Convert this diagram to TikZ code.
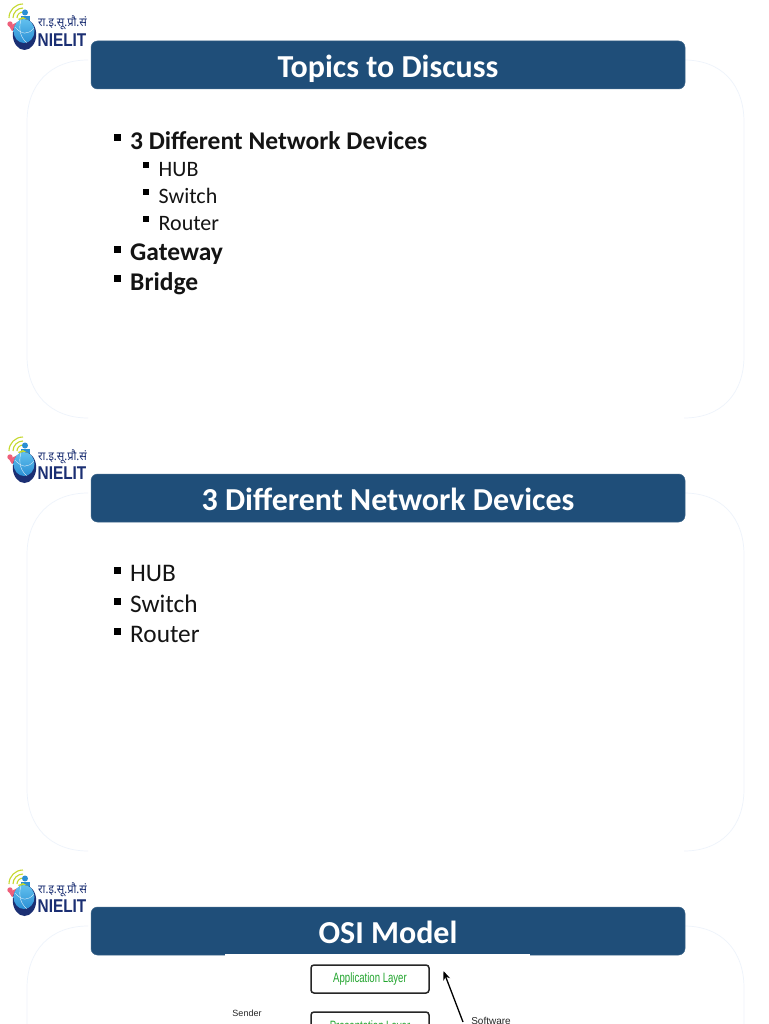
\documentclass[tikz,border=0pt]{standalone}
\usepackage{fontspec}
\setmainfont{Carlito}
\setsansfont{Liberation Sans}
\newfontfamily\hindifont[Script=Devanagari]{Noto Sans}
\usetikzlibrary{arrows.meta,shapes.geometric}
\definecolor{banner}{HTML}{1F4E79}
\definecolor{panelline}{HTML}{EEF3FB}
\definecolor{navy}{HTML}{1B2F73}
\definecolor{layergreen}{HTML}{22A52E}
\definecolor{lime}{HTML}{C5D82E}
\definecolor{logopink}{HTML}{EE5F7A}
\definecolor{logoblue}{HTML}{2A8FD4}
\definecolor{logolight}{HTML}{62C0EE}
\tikzset{
  titlebar/.style={draw=banner!85!white,line width=.5pt,fill=banner,rounded corners=6.5pt,minimum width=594pt,minimum height=48pt,inner sep=0pt,anchor=center},
  titletext/.style={text=white,font=\fontsize{32}{36}\selectfont\bfseries,inner sep=0pt,anchor=base},
  bigbold/.style={text=black!92,font=\fontsize{25.5}{28}\selectfont\bfseries,inner sep=0pt,anchor=base west},
  bigreg/.style={text=black!92,font=\fontsize{25.3}{28}\selectfont,inner sep=0pt,anchor=base west},
  smallreg/.style={text=black!92,font=\fontsize{22}{26}\selectfont,inner sep=0pt,anchor=base west},
  bulletbig/.style={fill=black,minimum size=7pt,inner sep=0pt,anchor=center},
  bulletsmall/.style={fill=black,minimum size=6pt,inner sep=0pt,anchor=center},
  panel/.style={draw=panelline,line width=.7pt},
  layerbox/.style={draw=black!85,line width=1.5pt,rounded corners=3pt,minimum width=118pt,minimum height=28pt,inner sep=0pt,fill=white},
  layertext/.style={text=layergreen,font=\sffamily\fontsize{13.5}{15}\selectfont,xscale=.71,inner sep=0pt},
  smalllabel/.style={text=black!85,font=\sffamily\fontsize{10}{12}\selectfont,inner sep=0pt},
  logo/.pic={
    \foreach \r in {14,10,6}{
      \draw[line width=1.1pt,color=lime] (23-\r,18) arc[start angle=180,end angle=270,radius=\r];
    }
    \fill[logopink] (10,24) circle (2.7);
    \fill[logopink] (9,26) -- (20,21) -- (21,27) -- (12,31) -- cycle;
    \fill[logoblue] (25,12.5) circle (3);
    \fill[logoblue] (21,16) rectangle (30,24);
    \fill[lime] (18,19) -- (23,17) -- (28,20) -- (22,23) -- cycle;
    \path[fill=navy] (24.5,34.5) ellipse (11.7 and 15.5);
    \path[top color=logolight,bottom color=logoblue] (24,31) ellipse (10.5 and 12);
    \draw[white,line width=.3pt] (15,27) .. controls (22,35) and (28,35) .. (34,28);
    \draw[white,line width=.3pt] (21,19.5) .. controls (18,30) and (21,38) .. (27,43);
    \node[inner sep=0pt,text=navy,font=\hindifont\fontsize{12}{13}\selectfont,xscale=.92,anchor=base west] (-hi) at (38,27) {रा.इ.सू.प्रौ.सं};
    \node[inner sep=0pt,text=navy,font=\sffamily\bfseries\fontsize{18.5}{19}\selectfont,xscale=.83,anchor=base west] (-en) at (37.5,46.7) {NIELIT};
  }
}
\begin{document}
\begin{tikzpicture}[x=1pt,y=-1pt]
\useasboundingbox (0,0) rectangle (768,1024);
\clip (0,0) rectangle (768,1024);
\fill[white] (0,0) rectangle (768,1024);

% panel outlines
\foreach \o in {0,433}{
  \draw[panel] (88,60+\o) .. controls (50,60+\o) and (27,85+\o) .. (27,122+\o) -- (27,356+\o) .. controls (27,393+\o) and (50,418+\o) .. (88,418+\o);
  \draw[panel] (684,60+\o) .. controls (722,60+\o) and (744,85+\o) .. (744,122+\o) -- (744,356+\o) .. controls (744,393+\o) and (722,418+\o) .. (684,418+\o);
}
\draw[panel] (88,926) .. controls (50,926) and (27,951) .. (27,988) -- (27,1024);
\draw[panel] (684,926) .. controls (722,926) and (744,951) .. (744,988) -- (744,1024);

% logos
\pic (logoa) at (0,0) {logo};
\pic (logob) at (0,433) {logo};
\pic (logoc) at (0,866) {logo};

% Slide 1
\node[titlebar] (bara) at (388,65) {};
\node[titletext] (titlea) at (388,77.5) {Topics to Discuss};
\node[bulletbig] (b1) at (117.5,138) {};
\node[bigbold] (t1) at (130,149.8) {3 Different Network Devices};
\node[bulletsmall] (b2) at (146,165) {};
\node[smallreg] (t2) at (158.5,176.3) {HUB};
\node[bulletsmall] (b3) at (146,192) {};
\node[smallreg] (t3) at (158.5,203.5) {Switch};
\node[bulletsmall] (b4) at (146,219) {};
\node[smallreg] (t4) at (158.5,230.5) {Router};
\node[bulletbig] (b5) at (117.5,249) {};
\node[bigbold] (t5) at (130,260.3) {Gateway};
\node[bulletbig] (b6) at (117.5,278.5) {};
\node[bigbold] (t6) at (130,290.7) {Bridge};

% Slide 2
\node[titlebar] (barb) at (388,498) {};
\node[titletext] (titleb) at (388,510.5) {3 Different Network Devices};
\node[bulletbig] (c1) at (117.5,570) {};
\node[bigreg] (u1) at (130,581) {HUB};
\node[bulletbig] (c2) at (117.5,601) {};
\node[bigreg] (u2) at (130,612) {Switch};
\node[bulletbig] (c3) at (117.5,631.5) {};
\node[bigreg] (u3) at (130,642.5) {Router};

% Slide 3
\node[titlebar] (barc) at (388,931) {};
\node[titletext] (titlec) at (388,943.5) {OSI Model};
\fill[white] (225,954.3) rectangle (530,1024);
\node[layerbox] (app) at (370,979) {};
\node[layertext] (apptext) at (370,978.5) {Application Layer};
\node[layerbox] (pres) at (370,1026) {};
\node[layertext] (prestext) at (370,1026.5) {Presentation Layer};
\node[smalllabel,font=\sffamily\fontsize{9}{11}\selectfont] (sender) at (247,1013.5) {Sender};
\node[smalllabel] (soft) at (491,1020.5) {Software};
\coordinate (softend) at (463,1022);
\coordinate (apptip) at (443.5,971);
\draw[line width=1.3pt,-{Stealth[length=9pt,width=7pt]}] (softend) -- (apptip);
\end{tikzpicture}
\end{document}
